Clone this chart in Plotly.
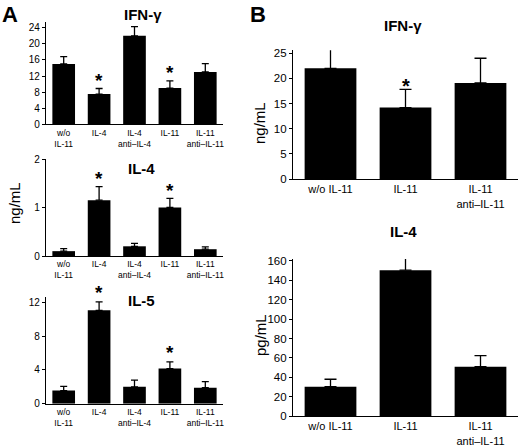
import plotly.graph_objects as go

# ---------------- data ----------------
cats_A = ["w/o<br>IL-11", "IL-4", "IL-4<br>anti–IL-4", "IL-11", "IL-11<br>anti–IL-11"]
A_ifn = [15.0, 7.5, 22.0, 9.0, 13.0]
A_ifn_err = [1.8, 1.4, 2.3, 1.8, 2.1]
A_il4 = [0.10, 1.15, 0.20, 1.00, 0.14]
A_il4_err = [0.05, 0.28, 0.06, 0.19, 0.05]
A_il5 = [1.55, 11.05, 2.0, 4.15, 1.9]
A_il5_err = [0.5, 1.0, 0.8, 0.8, 0.7]
A_sig = [False, True, False, True, False]

cats_B = ["w/o IL-11", "IL-11", "IL-11<br>anti–IL-11"]
B_ifn = [22.0, 14.2, 19.1]
B_ifn_err = [5.0, 3.6, 4.9]
B_il4 = [30.2, 150.5, 50.9]
B_il4_err = [7.7, 18.5, 11.3]
B_sig = [False, True, False]

W, H = 520, 447
FONT = "Liberation Sans, Arial, sans-serif"

def px_x(a, b):
    return [a / W, b / W]

def px_y(top, bottom):
    return [1 - bottom / H, 1 - top / H]

panels = [
    dict(c=cats_A, v=A_ifn, e=A_ifn_err, s=A_sig, xd=(46, 223), yt=21.7, yb=124.3, yr=25.5, bw=0.64,
         tv=[0, 4, 8, 12, 16, 20, 24], tf=10, cf=8.5, cap=3.5, sh=8, title="IFN-γ", tx=143, ty=14),
    dict(c=cats_A, v=A_il4, e=A_il4_err, s=A_sig, xd=(46, 223), yt=159, yb=256, yr=2.0, bw=0.64,
         tv=[0, 1, 2], tf=10, cf=8.5, cap=3.5, sh=8, title="IL-4", tx=141, ty=169),
    dict(c=cats_A, v=A_il5, e=A_il5_err, s=A_sig, xd=(46, 223), yt=297.2, yb=403.7, yr=12.6, bw=0.64,
         tv=[0, 4, 8, 12], tf=10, cf=8.5, cap=3.5, sh=9, title="IL-5", tx=141, ty=300),
    dict(c=cats_B, v=B_ifn, e=B_ifn_err, s=B_sig, xd=(293, 518), yt=50.2, yb=179, yr=25.6, bw=0.69,
         tv=[0, 5, 10, 15, 20, 25], tf=11.5, cf=11, cap=6, sh=3, title="IFN-γ", tx=403, ty=26),
    dict(c=cats_B, v=B_il4, e=B_il4_err, s=B_sig, xd=(293, 518), yt=259, yb=416, yr=162, bw=0.69,
         tv=[0, 20, 40, 60, 80, 100, 120, 140, 160], tf=11.5, cf=11, cap=6, sh=4, title="IL-4", tx=403, ty=232),
]

fig = go.Figure()
annotations = []
for i, p in enumerate(panels, start=1):
    xa = "x" if i == 1 else f"x{i}"
    ya = "y" if i == 1 else f"y{i}"
    fig.add_trace(go.Bar(
        x=p["c"], y=p["v"], xaxis=xa, yaxis=ya,
        marker=dict(color="black", line=dict(width=0)),
        width=p["bw"],
        error_y=dict(type="data", array=p["e"], arrayminus=[0] * len(p["e"]), symmetric=False,
                     color="black", thickness=1.3, width=p["cap"]),
        showlegend=False,
    ))
    fig.layout[f"xaxis{'' if i == 1 else i}"] = dict(
        domain=px_x(*p["xd"]), anchor=ya, type="category", range=[-0.5, len(p["c"]) - 0.5],
        showline=True, linecolor="black", linewidth=1.2, ticks="", showgrid=False, automargin=False,
        tickfont=dict(family=FONT, size=p["cf"], color="black"), zeroline=False,
    )
    fig.layout[f"yaxis{'' if i == 1 else i}"] = dict(
        domain=px_y(p["yt"], p["yb"]), anchor=xa, range=[0, p["yr"]], automargin=False,
        tickvals=p["tv"], showline=True, linecolor="black", linewidth=1.2,
        ticks="outside", ticklen=3, tickcolor="black", showgrid=False, zeroline=False,
        tickfont=dict(family=FONT, size=p["tf"], color="black"),
    )
    for c, v, e, s in zip(p["c"], p["v"], p["e"], p["s"]):
        if s:
            annotations.append(dict(x=c, y=v + e, xref=xa, yref=ya, text="<b>*</b>", showarrow=False,
                                    xanchor="center", yanchor="middle", yshift=p["sh"],
                                    font=dict(family=FONT, size=20 if i > 3 else 19, color="black")))
    annotations.append(dict(x=p["tx"] / W, y=1 - p["ty"] / H, xref="paper", yref="paper",
                            xanchor="center", yanchor="middle",
                            text=f"<b>{p['title']}</b>", showarrow=False,
                            font=dict(family=FONT, size=15, color="black")))

for txt, x, y in [("A", 10, 15), ("B", 258, 15)]:
    annotations.append(dict(x=x / W, y=1 - y / H, xref="paper", yref="paper", text=f"<b>{txt}</b>",
                            xanchor="center", yanchor="middle",
                            showarrow=False, font=dict(family=FONT, size=22, color="black")))
for txt, x, y in [("ng/mL", 14, 203), ("ng/mL", 260, 123), ("pg/mL", 260, 335)]:
    annotations.append(dict(x=x / W, y=1 - y / H, xref="paper", yref="paper", text=txt, textangle=-90,
                            xanchor="center", yanchor="middle",
                            showarrow=False, font=dict(family=FONT, size=15, color="black")))

fig.update_layout(
    width=W, height=H, margin=dict(l=0, r=0, t=0, b=0, autoexpand=False),
    paper_bgcolor="white", plot_bgcolor="white", bargap=0.34,
    annotations=annotations, font=dict(family=FONT, color="black"),
)
fig.write_html("out.html", config={"displayModeBar": False},
               post_script="document.body.style.margin='0';document.body.style.padding='0';")
